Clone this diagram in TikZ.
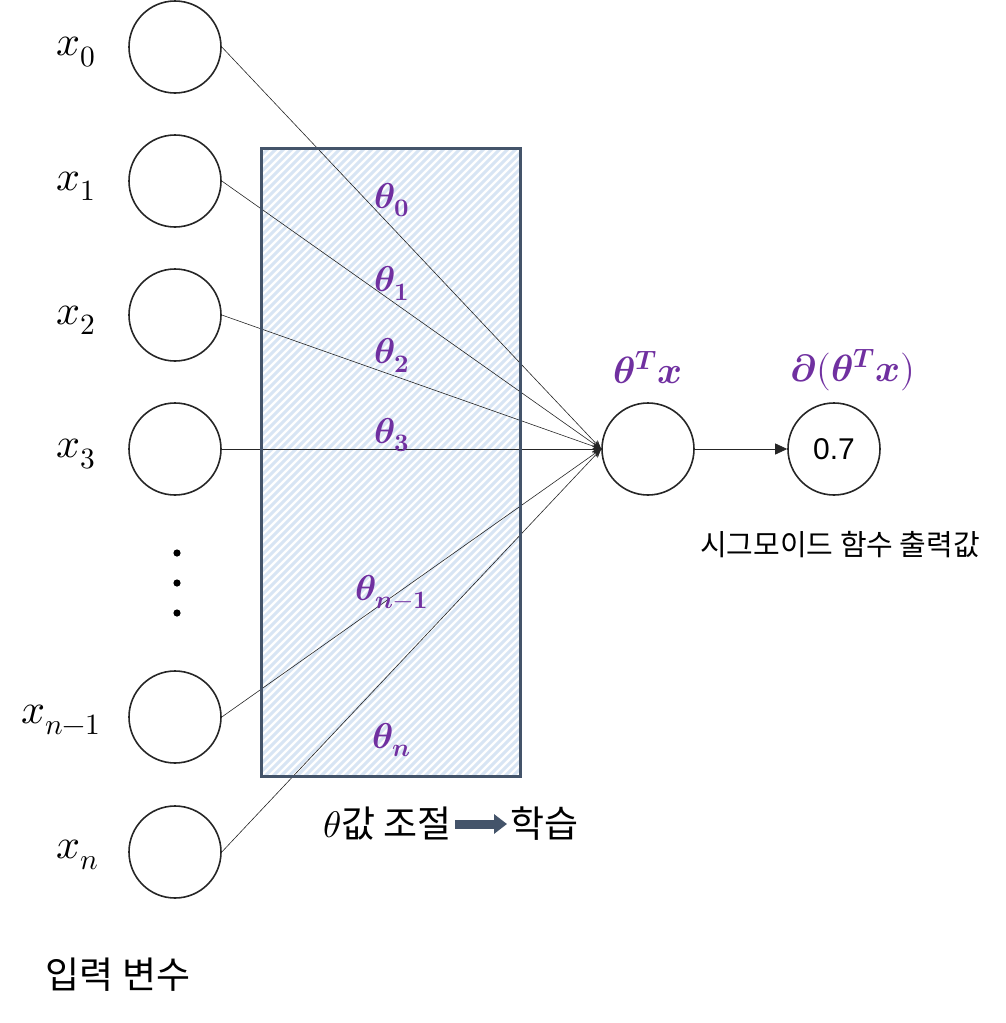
\documentclass[tikz,border=0pt]{standalone}
\usepackage{amsmath}
\usepackage{fontspec}
\usepackage{unicode-math}
\setmathfont{Latin Modern Math}
\newfontfamily\kr{Noto Sans CJK KR}
\newfontfamily\arial{Liberation Sans}
\usetikzlibrary{arrows.meta}
\definecolor{slate}{HTML}{44546A}
\definecolor{stripe}{HTML}{D8E5F4}
\definecolor{purp}{HTML}{7030A0}
\newcommand{\bth}{\symbfit{\theta}}
\begin{document}
\begin{tikzpicture}[x=1pt,y=-1pt,
  neuron/.style={circle,draw=black!85,line width=1.6pt,minimum size=92pt,inner sep=0pt},
  xlab/.style={font=\fontsize{42}{46}\selectfont},
  thlab/.style={text=purp,font=\fontsize{36}{40}\selectfont},
  conn/.style={line width=0.6pt,black!85,-{Stealth[length=9pt,width=7pt]}},
  krtext/.style={font=\kr\fontsize{37}{42}\selectfont}]
\useasboundingbox (0,0) rectangle (1006,1023);
% hatched box
\begin{scope}
\clip (261,148) rectangle (520,776);
\fill[white] (261,148) rectangle (520,776);
\foreach \i in {0,...,120}{
  \draw[stripe,line width=3pt] (261-628+\i*8,776) -- (261+\i*8,148);
}
\end{scope}
% input neurons
\node[neuron] (n0) at (175,47) {};
\node[neuron] (n1) at (175,181) {};
\node[neuron] (n2) at (175,315) {};
\node[neuron] (n3) at (175,449) {};
\node[neuron] (nm) at (175,717) {};
\node[neuron] (nn) at (175,852) {};
\node[neuron] (s) at (648,449) {};
\node[neuron] (o) at (834,449) {\arial\fontsize{30}{34}\selectfont 0.7};
% labels
\node[xlab] (l0) at (76,52) {$x_0$};
\node[xlab] (l1) at (76,186) {$x_1$};
\node[xlab] (l2) at (76,320) {$x_2$};
\node[xlab] (l3) at (76,454) {$x_3$};
\node[xlab] (lm) at (61,720) {$x_{n-1}$};
\node[xlab] (ln) at (78,855) {$x_n$};
% dots
\fill (177,553) circle (3.6pt);
\fill (177,583) circle (3.6pt);
\fill (177,613) circle (3.6pt);
% connections
\foreach \n in {n0,n1,n2,n3,nm,nn}{
  \draw[conn] (\n.east) -- (s.west);
}
\draw[line width=0.8pt,black!85,-{Triangle[length=12pt,width=11pt]}] (s.east) -- (o.west);
% border
\draw[slate,line width=3pt] (261,148) rectangle (520,776);
% theta labels
\node[thlab] (t0) at (392,200) {$\bth_{\symbf{0}}$};
\node[thlab] (t1) at (392,283) {$\bth_{\symbf{1}}$};
\node[thlab] (t2) at (392,355) {$\bth_{\symbf{2}}$};
\node[thlab] (t3) at (392,435) {$\bth_{\symbf{3}}$};
\node[thlab] (tm) at (392,592) {$\bth_{\symbfit{n}\boldsymbol{-}\symbf{1}}$};
\node[thlab] (tn) at (392,740) {$\bth_{\symbfit{n}}$};
\node[thlab,font=\fontsize{38}{42}\selectfont] (tx) at (648,368) {$\bth^{\symbfit{T}}\symbfit{x}$};
\node[thlab,font=\fontsize{38}{42}\selectfont] (sx) at (853,370) {$\symbfit{\partial}(\bth^{\symbfit{T}}\symbfit{x})$};
% korean texts
\node[font=\kr\fontsize{29}{33}\selectfont] (sig) at (840,545) {시그모이드 함수 출력값};
\node[krtext] (in) at (118,975) {입력 변수};
\node[krtext,anchor=east] (adj) at (455,824) {$\theta$값 조절};
\node[krtext,anchor=west] (learn) at (507,824) {학습};
\draw[slate,line width=9pt,-{Triangle[length=13pt,width=19pt]}] (adj.east) -- (learn.west);
\end{tikzpicture}
\end{document}
